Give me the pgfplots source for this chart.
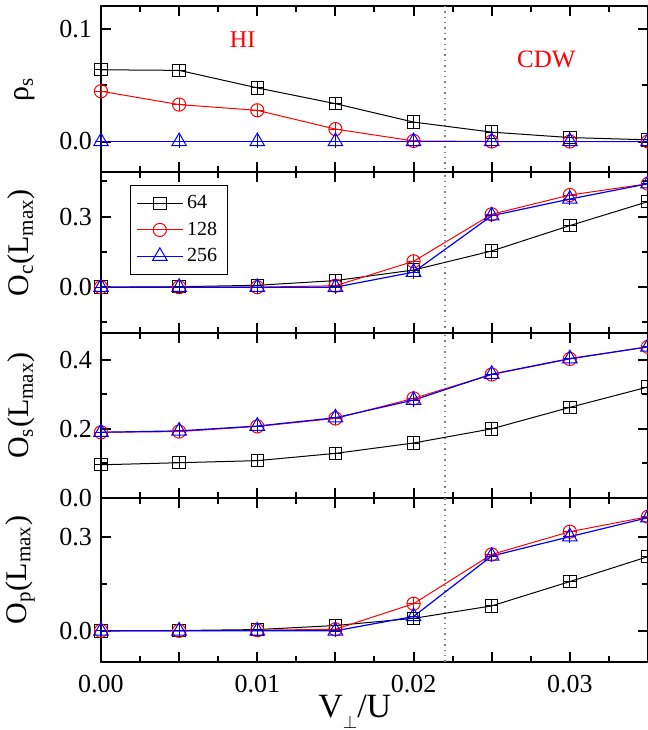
\documentclass[border=0pt]{standalone}
\usepackage{fontspec}
\setmainfont{Liberation Serif}
\usepackage{pgfplots}
\usepackage{pgfplotstable}
\pgfplotsset{compat=1.18}

% columns: x, L=64 (a), L=128 (b), L=256 (c)
\pgfplotstableread{
x      a       b       c
0      0.0635  0.0445  0
0.005  0.0630  0.0327  0
0.01   0.0475  0.0276  0
0.015  0.0335  0.0110  0
0.02   0.0172  0.0005  0
0.025  0.0083  0       0
0.03   0.0035  0       0
0.035  0.0015  0       0
}\rhotab
\pgfplotstableread{
x      a       b       c
0      0       0       0
0.005  0.002   0       0
0.01   0.008   0       0
0.015  0.028   0.006   0
0.02   0.073   0.110   0.064
0.025  0.154   0.310   0.304
0.03   0.262   0.392   0.375
0.035  0.364   0.440   0.440
}\octab
\pgfplotstableread{
x      a       b       c
0      0.096   0.190   0.190
0.005  0.102   0.192   0.194
0.01   0.108   0.207   0.208
0.015  0.129   0.230   0.232
0.02   0.159   0.288   0.283
0.025  0.200   0.357   0.358
0.03   0.262   0.402   0.403
0.035  0.321   0.437   0.437
}\ostab
\pgfplotstableread{
x      a       b       c
0      0       0       0
0.005  0.001   0       0
0.01   0.004   0.002   0
0.015  0.017   0.005   0
0.02   0.040   0.087   0.046
0.025  0.080   0.245   0.240
0.03   0.158   0.318   0.302
0.035  0.238   0.366   0.363
}\optab

\pgfplotsset{
  panel/.style={
    scale only axis, width=273.5pt,
    xmin=0, xmax=0.035,
    xtick={0,0.005,0.01,0.015,0.02,0.025,0.03,0.035},
    minor x tick num=1,
    xticklabels={},
    scaled ticks=false,
    tick align=inside, xtick pos=both, ytick pos=both,
    major tick length=5pt, minor tick length=3pt,
    every tick/.style={black, line width=1pt},
    axis line style={line width=1.3pt},
    tick label style={font=\fontsize{13}{15}\selectfont},
    /pgf/number format/assume math mode=true,
    yticklabel style={/pgf/number format/fixed, /pgf/number format/fixed zerofill,
      /pgf/number format/precision=1, xshift=-1pt},
    ylabel style={at={(axis description cs:-0.108,0.56)}, anchor=south,
      font=\fontsize{15}{17}\selectfont},
  },
  s64/.style={black, line width=0.5pt, mark=square, mark size=3.1pt,
    mark options={solid, line width=0.5pt}},
  s128/.style={red, line width=0.5pt, mark=o, mark size=3.3pt,
    mark options={solid, line width=0.5pt}},
  s256/.style={blue, line width=0.6pt, mark=triangle, mark size=4.2pt,
    mark options={solid, line width=0.5pt}},
  err/.style={only marks, mark=+, mark size=3.2pt, forget plot,
    mark options={line width=0.45pt}},
}

\newcommand{\threeseries}[1]{%
  \addplot[gray, dotted, line width=0.7pt, forget plot] coordinates {(0.022,-1) (0.022,1)};
  \addplot[s64] table[x=x,y=a]{#1};
  \addplot[err, black] table[x=x,y=a]{#1};
  \addplot[s128] table[x=x,y=b]{#1};
  \addplot[err, red] table[x=x,y=b]{#1};
  \addplot[s256] table[x=x,y=c]{#1};
  \addplot[err, blue] table[x=x,y=c]{#1};
}

\begin{document}
\begin{tikzpicture}
\begin{axis}[panel, at={(0,0)}, anchor=north west, height=83pt,
  ymin=-0.027, ymax=0.12, ytick={0,0.1}, minor ytick={0.05},
  ylabel={ρ\textsubscript{s}},
  ylabel style={at={(axis description cs:-0.108,0.5)}}]
\threeseries{\rhotab}
\node[red, font=\fontsize{12}{14}\selectfont] at (axis cs:0.00906,0.0905) {HI};
\node[red, font=\fontsize{12.5}{14}\selectfont] at (axis cs:0.0285,0.0727) {CDW};
\end{axis}

\begin{axis}[panel, at={(0,-83pt)}, anchor=north west, height=80.5pt,
  ymin=-0.195, ymax=0.49, ytick={0,0.3}, minor ytick={-0.15,0.15,0.45},
  ylabel={O\textsubscript{c}(L\textsubscript{max})},
  legend style={at={(0.053,0.919)}, anchor=north west, draw=black, line width=0.5pt,
    font=\fontsize{10}{12}\selectfont, row sep=1pt, inner sep=3pt},
  legend cell align=left,
  legend image code/.code={\draw[mark repeat=2, mark phase=2]
    plot coordinates {(0cm,0cm) (0.4cm,0cm) (0.8cm,0cm)};}]
\threeseries{\octab}
\legend{64,128,256}
\end{axis}

\begin{axis}[panel, at={(0,-163.5pt)}, anchor=north west, height=82.5pt,
  ymin=0, ymax=0.477, ytick={0,0.2,0.4}, minor ytick={0.1,0.3},
  ylabel={O\textsubscript{s}(L\textsubscript{max})}]
\threeseries{\ostab}
\end{axis}

\begin{axis}[panel, at={(0,-246pt)}, anchor=north west, height=82pt,
  ymin=-0.1, ymax=0.426, ytick={0,0.3}, minor ytick={0.15},
  ylabel={O\textsubscript{p}(L\textsubscript{max})},
  xticklabels={0.00,,0.01,,0.02,,0.03,},
  xticklabel style={yshift=-3pt},
  xlabel={V\raisebox{-5.5pt}{\fontsize{9}{9}\selectfont$\perp$}/U},
  xlabel style={at={(axis description cs:0.464,0)}, anchor=base, yshift=-27.5pt,
    font=\fontsize{17}{19}\selectfont}]
\threeseries{\optab}
\end{axis}

\pgfresetboundingbox
\path (-50.5pt,3pt) rectangle (273.5pt,-362pt);
\end{tikzpicture}
\end{document}
